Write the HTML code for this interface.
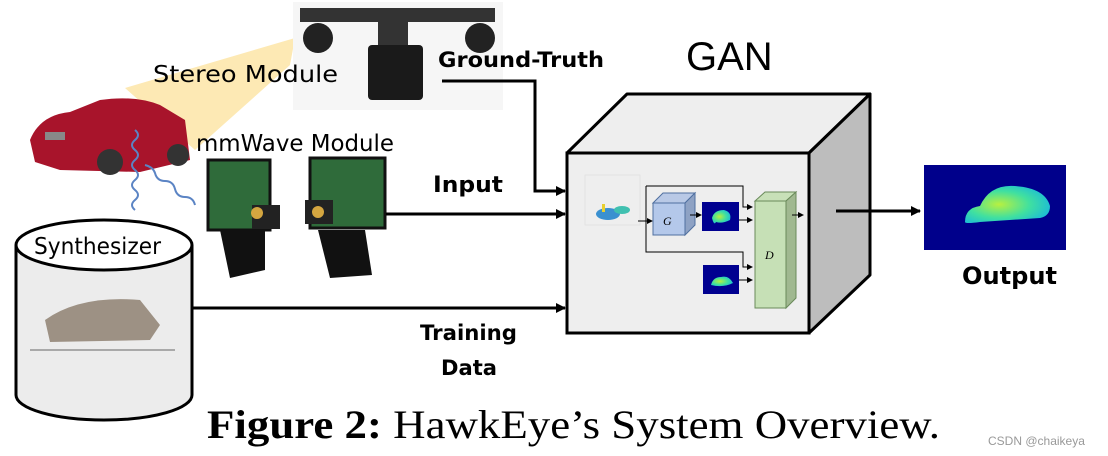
<!DOCTYPE html>
<html><head><meta charset="utf-8"><style>
html,body{margin:0;padding:0;background:#fff;}
svg{display:block;font-family:"DejaVu Sans","Liberation Sans",sans-serif;}
</style></head><body>
<svg width="1108" height="456" viewBox="0 0 1108 456" xmlns="http://www.w3.org/2000/svg">
<defs>
<marker id="ah" markerWidth="10" markerHeight="10" refX="9" refY="5" orient="auto" markerUnits="userSpaceOnUse"><path d="M0,0 L10,5 L0,10 z" fill="#000"/></marker>
<marker id="as" markerWidth="6" markerHeight="6" refX="5" refY="3" orient="auto" markerUnits="userSpaceOnUse"><path d="M0,0 L6,3 L0,6 z" fill="#000"/></marker>
<radialGradient id="blob" cx="0.4" cy="0.5" r="0.6"><stop offset="0" stop-color="#b8f040"/><stop offset="0.6" stop-color="#40e0a0"/><stop offset="1" stop-color="#20c0d0"/></radialGradient>
</defs>
<!-- stereo cone -->
<polygon points="125,88 295,38 290,65 195,150" fill="#fde9b4"/>
<!-- stereo camera -->
<rect x="293" y="2" width="210" height="108" fill="#f6f6f6"/>
<rect x="300" y="8" width="160" height="14" fill="#333"/>
<circle cx="318" cy="38" r="15" fill="#222"/><circle cx="480" cy="38" r="15" fill="#222"/>
<rect x="300" y="8" width="195" height="14" fill="#333"/>
<rect x="378" y="18" width="30" height="30" fill="#333"/>
<rect x="368" y="45" width="55" height="55" fill="#1a1a1a" rx="4"/>
<!-- car -->
<path d="M30,140 Q40,115 70,112 L100,100 Q135,95 160,105 L185,120 L190,160 L140,172 L60,170 L35,162 Z" fill="#a8142b"/>
<circle cx="110" cy="162" r="13" fill="#333"/><circle cx="178" cy="155" r="11" fill="#333"/>
<rect x="45" y="132" width="20" height="8" fill="#888"/>
<!-- waves -->
<path d="M135,130 q6,5 0,10 q-6,5 0,10 q6,5 0,10 q-6,5 0,10 q6,5 0,10 q-6,5 0,10 q6,5 0,10 q-6,5 0,10" fill="none" stroke="#5b84c4" stroke-width="2"/>
<path d="M145,165 q8,2 10,8 q2,8 10,8 q8,0 10,8 q2,8 10,8 q8,0 10,8" fill="none" stroke="#5b84c4" stroke-width="2"/>
<!-- mmwave boards -->
<rect x="208" y="160" width="62" height="70" fill="#2f6b3a"/><rect x="208" y="160" width="62" height="70" fill="none" stroke="#111" stroke-width="3"/>
<rect x="252" y="205" width="28" height="24" fill="#222"/><circle cx="257" cy="213" r="6" fill="#d4a640"/>
<path d="M220,230 L265,230 L265,270 L230,278 Z" fill="#111"/>
<rect x="310" y="158" width="75" height="70" fill="#2f6b3a"/><rect x="310" y="158" width="75" height="70" fill="none" stroke="#111" stroke-width="3"/>
<rect x="305" y="200" width="28" height="24" fill="#222"/><circle cx="318" cy="212" r="6" fill="#d4a640"/>
<path d="M318,230 L365,230 L372,275 L330,278 Z" fill="#111"/>
<!-- labels -->
<text x="153" y="82" font-size="23" textLength="185" lengthAdjust="spacingAndGlyphs">Stereo Module</text>
<text x="196" y="151" font-size="23" textLength="198" lengthAdjust="spacingAndGlyphs">mmWave Module</text>
<text x="438" y="67" font-size="21" font-weight="bold" textLength="166" lengthAdjust="spacingAndGlyphs">Ground-Truth</text>
<text x="433" y="192" font-size="22" font-weight="bold" textLength="70" lengthAdjust="spacingAndGlyphs">Input</text>
<text x="420" y="340" font-size="21" font-weight="bold" textLength="97" lengthAdjust="spacingAndGlyphs">Training</text>
<text x="441" y="375" font-size="21" font-weight="bold" textLength="56" lengthAdjust="spacingAndGlyphs">Data</text>
<text x="686" y="70" font-size="40" font-family="Liberation Sans,sans-serif">GAN</text>
<text x="962" y="284" font-size="24" font-weight="bold" textLength="95" lengthAdjust="spacingAndGlyphs">Output</text>
<!-- cylinder -->
<path d="M16,245 L16,395 A88,25 0 0 0 192,395 L192,245" fill="#ececec" stroke="#000" stroke-width="3"/>
<ellipse cx="104" cy="245" rx="88" ry="25" fill="#fff" stroke="#000" stroke-width="3"/>
<text x="34" y="254" font-size="23" textLength="127" lengthAdjust="spacingAndGlyphs">Synthesizer</text>
<path d="M45,320 Q80,295 140,300 L160,325 L150,340 L50,342 Z" fill="#8a7a6a" opacity="0.8"/>
<line x1="30" y1="350" x2="175" y2="350" stroke="#666"/>
<!-- arrows -->
<polyline points="442,81 535,81 535,191 565,191" fill="none" stroke="#000" stroke-width="3" marker-end="url(#ah)"/>
<line x1="386" y1="214" x2="565" y2="214" stroke="#000" stroke-width="3" marker-end="url(#ah)"/>
<line x1="193" y1="308" x2="565" y2="308" stroke="#000" stroke-width="3" marker-end="url(#ah)"/>
<!-- GAN cube -->
<polygon points="567,153 627,94 870,94 809,153" fill="#eeeeee" stroke="#000" stroke-width="3" stroke-linejoin="round"/>
<polygon points="809,153 870,94 870,275 809,333" fill="#bdbdbd" stroke="#000" stroke-width="3" stroke-linejoin="round"/>
<rect x="567" y="153" width="242" height="180" fill="#eeeeee" stroke="#000" stroke-width="3"/>
<!-- inner -->
<rect x="585" y="175" width="55" height="50" fill="none" stroke="#ddd" stroke-width="0.6"/>
<ellipse cx="608" cy="214" rx="12" ry="6" fill="#3a90d0"/><ellipse cx="622" cy="210" rx="8" ry="4" fill="#40c0b0"/>
<rect x="602" y="204" width="3" height="8" fill="#e8d030"/>
<polyline points="646,186 743,186 743,207 752,207" fill="none" stroke="#000" stroke-width="1" marker-end="url(#as)"/>
<polyline points="646,186 646,252 743,252 743,267 752,267" fill="none" stroke="#000" stroke-width="1" marker-end="url(#as)"/>
<line x1="638" y1="221" x2="652" y2="221" stroke="#000" stroke-width="1" marker-end="url(#as)"/>
<polygon points="653,203 663,193 695,193 685,203" fill="#b9c9e6" stroke="#5070a0"/>
<polygon points="685,203 695,193 695,225 685,235" fill="#8ea2c4" stroke="#5070a0"/>
<rect x="653" y="203" width="32" height="32" fill="#b4c8ea" stroke="#5070a0"/>
<text x="663" y="225" font-size="12" font-style="italic" font-family="Liberation Serif,serif">G</text>
<line x1="690" y1="215" x2="701" y2="215" stroke="#000" stroke-width="1" marker-end="url(#as)"/>
<rect x="702" y="202" width="37" height="29" fill="#000090"/>
<path d="M712,218 q2,-8 12,-8 q8,2 6,10 q-8,4 -14,2 q-2,4 -4,-4z" fill="url(#blob)"/>
<line x1="739" y1="220" x2="752" y2="220" stroke="#000" stroke-width="1" marker-end="url(#as)"/>
<rect x="703" y="265" width="36" height="29" fill="#000090"/>
<path d="M711,285 q2,-8 10,-8 q8,-2 12,6 q-10,5 -22,2z" fill="url(#blob)"/>
<line x1="739" y1="280" x2="752" y2="280" stroke="#000" stroke-width="1" marker-end="url(#as)"/>
<polygon points="755,201 765,192 796,192 786,201" fill="#c8e0b8" stroke="#6a8a5a"/>
<polygon points="786,201 796,192 796,298 786,308" fill="#a0b890" stroke="#6a8a5a"/>
<rect x="755" y="201" width="31" height="107" fill="#c6e0b6" stroke="#6a8a5a"/>
<text x="765" y="259" font-size="12" font-style="italic" font-family="Liberation Serif,serif">D</text>
<line x1="792" y1="215" x2="803" y2="215" stroke="#000" stroke-width="1" marker-end="url(#as)"/>
<!-- output -->
<line x1="836" y1="211" x2="920" y2="211" stroke="#000" stroke-width="3" marker-end="url(#ah)"/>
<rect x="924" y="165" width="142" height="85" fill="#00008b"/>
<path d="M965,222 q0,-14 15,-16 q10,-22 35,-20 q30,2 35,20 q0,10 -10,12 l-60,4 q-15,2 -15,0z" fill="url(#blob)"/>
<!-- caption -->
<text x="207" y="438" font-size="40" font-family="Liberation Serif,serif" textLength="733" lengthAdjust="spacingAndGlyphs"><tspan font-weight="bold">Figure 2:</tspan> HawkEye’s System Overview.</text>
<text x="988" y="445" font-size="12" fill="#999" font-family="Liberation Sans,sans-serif">CSDN @chaikeya</text>
</svg>
</body></html>
